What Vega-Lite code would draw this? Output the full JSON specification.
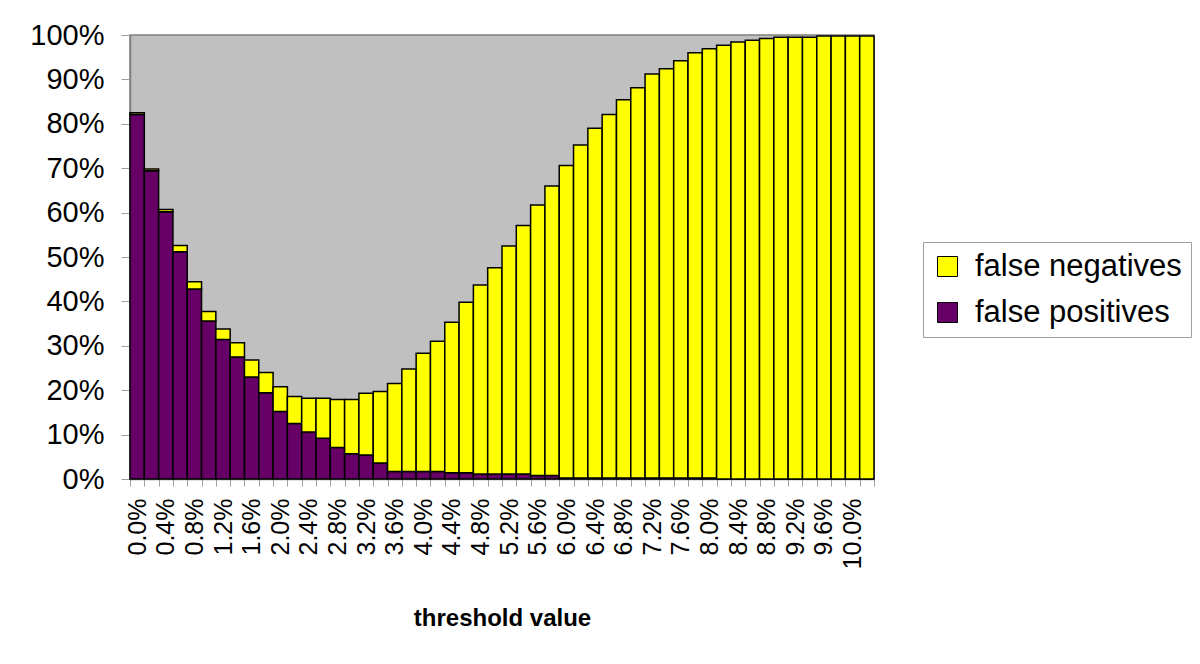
{
  "$schema": "https://vega.github.io/schema/vega-lite/v6.json",
  "autosize": {"type": "none"},
  "padding": {"left": 130, "top": 35, "right": 326, "bottom": 185},
  "width": 744,
  "height": 444,
  "background": "white",
  "config": {
    "view": {"fill": "#C0C0C0", "stroke": "#808080", "strokeWidth": 1.5},
    "font": "Liberation Sans"
  },
  "data": {
    "values": [
      {"t": "0.0%", "fp": 82.1, "fn": 0.4},
      {"t": "0.2%", "fp": 69.4, "fn": 0.4},
      {"t": "0.4%", "fp": 60.2, "fn": 0.5},
      {"t": "0.6%", "fp": 51.2, "fn": 1.4},
      {"t": "0.8%", "fp": 42.8, "fn": 1.6},
      {"t": "1.0%", "fp": 35.6, "fn": 2.1},
      {"t": "1.2%", "fp": 31.4, "fn": 2.4},
      {"t": "1.4%", "fp": 27.5, "fn": 3.2},
      {"t": "1.6%", "fp": 23.0, "fn": 3.8},
      {"t": "1.8%", "fp": 19.4, "fn": 4.6},
      {"t": "2.0%", "fp": 15.2, "fn": 5.6},
      {"t": "2.2%", "fp": 12.5, "fn": 6.1},
      {"t": "2.4%", "fp": 10.6, "fn": 7.6},
      {"t": "2.6%", "fp": 9.2, "fn": 9.0},
      {"t": "2.8%", "fp": 7.1, "fn": 10.8},
      {"t": "3.0%", "fp": 5.7, "fn": 12.2},
      {"t": "3.2%", "fp": 5.4, "fn": 13.9},
      {"t": "3.4%", "fp": 3.6, "fn": 16.1},
      {"t": "3.6%", "fp": 1.7, "fn": 19.8},
      {"t": "3.8%", "fp": 1.7, "fn": 23.1},
      {"t": "4.0%", "fp": 1.7, "fn": 26.6},
      {"t": "4.2%", "fp": 1.7, "fn": 29.3},
      {"t": "4.4%", "fp": 1.4, "fn": 33.9},
      {"t": "4.6%", "fp": 1.4, "fn": 38.4},
      {"t": "4.8%", "fp": 1.1, "fn": 42.6},
      {"t": "5.0%", "fp": 1.1, "fn": 46.5},
      {"t": "5.2%", "fp": 1.1, "fn": 51.4},
      {"t": "5.4%", "fp": 1.1, "fn": 56.0},
      {"t": "5.6%", "fp": 0.8, "fn": 60.9},
      {"t": "5.8%", "fp": 0.8, "fn": 65.2},
      {"t": "6.0%", "fp": 0.2, "fn": 70.4},
      {"t": "6.2%", "fp": 0.2, "fn": 75.0},
      {"t": "6.4%", "fp": 0.2, "fn": 78.8},
      {"t": "6.6%", "fp": 0.2, "fn": 81.9},
      {"t": "6.8%", "fp": 0.2, "fn": 85.2},
      {"t": "7.0%", "fp": 0.2, "fn": 87.9},
      {"t": "7.2%", "fp": 0.2, "fn": 91.0},
      {"t": "7.4%", "fp": 0.2, "fn": 92.2},
      {"t": "7.6%", "fp": 0.2, "fn": 94.0},
      {"t": "7.8%", "fp": 0.2, "fn": 95.8},
      {"t": "8.0%", "fp": 0.2, "fn": 96.7},
      {"t": "8.2%", "fp": 0, "fn": 97.7},
      {"t": "8.4%", "fp": 0, "fn": 98.4},
      {"t": "8.6%", "fp": 0, "fn": 98.8},
      {"t": "8.8%", "fp": 0, "fn": 99.2},
      {"t": "9.0%", "fp": 0, "fn": 99.5},
      {"t": "9.2%", "fp": 0, "fn": 99.5},
      {"t": "9.4%", "fp": 0, "fn": 99.5},
      {"t": "9.6%", "fp": 0, "fn": 99.8},
      {"t": "9.8%", "fp": 0, "fn": 99.8},
      {"t": "10.0%", "fp": 0, "fn": 99.8},
      {"t": "10.2%", "fp": 0, "fn": 99.8}
    ]
  },
  "transform": [
    {"fold": ["fp", "fn"], "as": ["key", "value"]},
    {"lookup": "key", "from": {"data": {"values": [{"key": "fp", "series": "false positives", "rank": 1}, {"key": "fn", "series": "false negatives", "rank": 2}]}, "key": "key", "fields": ["series", "rank"]}}
  ],
  "mark": {"type": "bar", "stroke": "black", "strokeWidth": 1.5},
  "encoding": {
    "x": {
      "field": "t",
      "type": "ordinal",
      "sort": null,
      "scale": {"paddingInner": 0, "paddingOuter": 0},
      "axis": {
        "title": "threshold value",
        "titleFont": "Liberation Sans",
        "titleFontSize": 24,
        "titleFontWeight": "bold",
        "titleColor": "black",
        "titlePadding": 38,
        "labelAngle": -90,
        "labelAlign": "right",
        "labelBaseline": "middle",
        "labelFontSize": 25,
        "labelColor": "black",
        "labelPadding": 12,
        "labelOverlap": false,
        "labelExpr": "round(toNumber(replace(datum.value, '%', '')) * 10) % 4 == 0 ? datum.value : ''",
        "tickBand": "extent",
        "tickSize": 7,
        "tickColor": "#A0A0A0",
        "domainColor": "#808080",
        "domainWidth": 1.5
      }
    },
    "y": {
      "field": "value",
      "type": "quantitative",
      "stack": "zero",
      "scale": {"domain": [0, 100], "nice": false},
      "axis": {
        "title": null,
        "values": [0, 10, 20, 30, 40, 50, 60, 70, 80, 90, 100],
        "labelExpr": "datum.value + '%'",
        "labelFontSize": 29,
        "labelColor": "black",
        "labelPadding": 17,
        "tickSize": 9,
        "tickColor": "#A0A0A0",
        "domainColor": "#808080",
        "domainWidth": 1.5,
        "grid": false
      }
    },
    "color": {
      "field": "series",
      "type": "nominal",
      "scale": {"domain": ["false negatives", "false positives"], "range": ["#FFFF00", "#660066"]},
      "legend": {
        "title": null,
        "orient": "none",
        "legendX": 793,
        "legendY": 207,
        "labelFontSize": 31,
        "labelLimit": 0,
        "labelColor": "black",
        "labelOffset": 12,
        "symbolType": "square",
        "symbolSize": 400,
        "symbolStrokeColor": "black",
        "symbolStrokeWidth": 1,
        "rowPadding": 14,
        "padding": 9,
        "strokeColor": "#A0A0A0",
        "fillColor": "white"
      }
    },
    "order": {"field": "rank", "type": "quantitative"}
  }
}
